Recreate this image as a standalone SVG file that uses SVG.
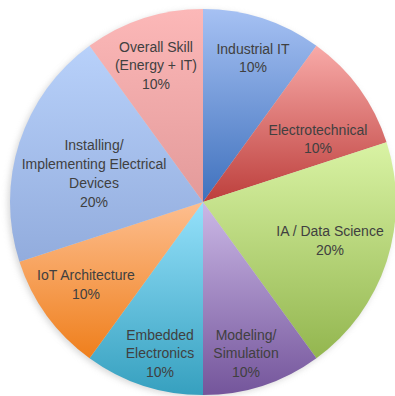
<svg xmlns="http://www.w3.org/2000/svg" width="395" height="396" viewBox="0 0 395 396">
<style>
text{font-family:"Liberation Sans",Arial,sans-serif;font-size:14px;fill:#404040;text-anchor:middle}
</style>
<defs>
<linearGradient id="gInd" x1="0" y1="0" x2="0" y2="1"><stop offset="0" stop-color="#a6c1f3"/><stop offset="1" stop-color="#3f71bd"/></linearGradient>
<linearGradient id="gEle" x1="0" y1="0" x2="0" y2="1"><stop offset="0" stop-color="#f8aaa8"/><stop offset="1" stop-color="#bd3f3c"/></linearGradient>
<linearGradient id="gIA" x1="0" y1="0" x2="0" y2="1"><stop offset="0" stop-color="#d9f3a4"/><stop offset="1" stop-color="#93b64f"/></linearGradient>
<linearGradient id="gMod" x1="0" y1="0" x2="0" y2="1"><stop offset="0" stop-color="#cbb8e6"/><stop offset="1" stop-color="#74559b"/></linearGradient>
<linearGradient id="gEmb" x1="0" y1="0" x2="0" y2="1"><stop offset="0" stop-color="#95e1fb"/><stop offset="1" stop-color="#36a0bf"/></linearGradient>
<linearGradient id="gIoT" x1="0" y1="0" x2="0" y2="1"><stop offset="0" stop-color="#fdbe8f"/><stop offset="1" stop-color="#ef7f1c"/></linearGradient>
<linearGradient id="gIns" x1="0" y1="0" x2="0" y2="1"><stop offset="0" stop-color="#b8d1fa"/><stop offset="1" stop-color="#92acdd"/></linearGradient>
<linearGradient id="gOvr" x1="0" y1="0" x2="0" y2="1"><stop offset="0" stop-color="#fcb8b8"/><stop offset="1" stop-color="#e39a9a"/></linearGradient>
<filter id="sh" x="-10%" y="-10%" width="120%" height="120%"><feGaussianBlur stdDeviation="3"/></filter>
</defs>
<circle cx="201" cy="204" r="193" fill="#bdbdbd" opacity="0.6" filter="url(#sh)"/>
<g id="industrial-it">
<path d="M203,202 L203,9 A193,193 0 0 1 316.44,45.86 Z" fill="url(#gInd)"/>
<text x="253" y="54">Industrial IT</text>
<text x="253" y="72">10%</text>
</g>
<g id="electrotechnical">
<path d="M203,202 L316.44,45.86 A193,193 0 0 1 386.55,142.36 Z" fill="url(#gEle)"/>
<text x="318" y="135">Electrotechnical</text>
<text x="318" y="153">10%</text>
</g>
<g id="ia-data-science">
<path d="M203,202 L386.55,142.36 A193,193 0 0 1 316.44,358.14 Z" fill="url(#gIA)"/>
<text x="330" y="236">IA / Data Science</text>
<text x="330" y="255">20%</text>
</g>
<g id="modeling-simulation">
<path d="M203,202 L316.44,358.14 A193,193 0 0 1 203,395 Z" fill="url(#gMod)"/>
<text x="246" y="340">Modeling/</text>
<text x="246" y="358">Simulation</text>
<text x="246" y="377">10%</text>
</g>
<g id="embedded-electronics">
<path d="M203,202 L203,395 A193,193 0 0 1 89.56,358.14 Z" fill="url(#gEmb)"/>
<text x="160" y="340">Embedded</text>
<text x="160" y="358">Electronics</text>
<text x="160" y="377">10%</text>
</g>
<g id="iot-architecture">
<path d="M203,202 L89.56,358.14 A193,193 0 0 1 19.45,261.64 Z" fill="url(#gIoT)"/>
<text x="86" y="280">IoT Architecture</text>
<text x="86" y="299">10%</text>
</g>
<g id="installing-implementing">
<path d="M203,202 L19.45,261.64 A193,193 0 0 1 89.56,45.86 Z" fill="url(#gIns)"/>
<text x="94" y="150">Installing/</text>
<text x="94" y="169">Implementing Electrical</text>
<text x="94" y="188">Devices</text>
<text x="94" y="207">20%</text>
</g>
<g id="overall-skill">
<path d="M203,202 L89.56,45.86 A193,193 0 0 1 203,9 Z" fill="url(#gOvr)"/>
<text x="156" y="52">Overall Skill</text>
<text x="156" y="70">(Energy + IT)</text>
<text x="156" y="89">10%</text>
</g>
</svg>
